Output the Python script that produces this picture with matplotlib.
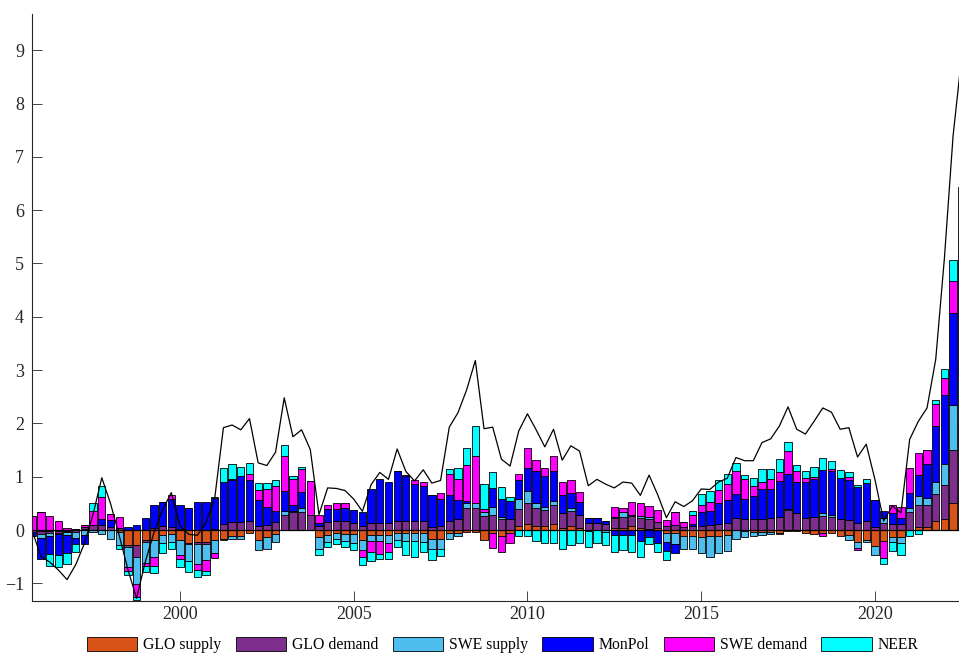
import numpy as np
import matplotlib.pyplot as plt

plt.rcParams['font.family'] = ['Liberation Serif', 'DejaVu Serif']

# quarterly historical decomposition, 1995Q4 - 2022Q3
first_quarter = 1995.75

glo_supply = [0, -0.02, -0.02, -0.02, -0.01, 0.02, 0.02, 0, 0, 0,
              -0.04, -0.29, -0.29, -0.18, -0.19, -0.1, -0.08, -0.18, -0.24, -0.22,
              -0.22, -0.18, -0.17, -0.11, -0.11, -0.05, -0.18, -0.14, -0.08, 0,
              0, 0, 0, -0.14, -0.1, -0.06, -0.08, -0.08, -0.18, -0.1,
              -0.1, -0.1, -0.06, -0.06, -0.06, -0.06, -0.16, -0.16, -0.06, -0.06,
              -0.03, -0.03, -0.19, -0.06, -0.11, -0.06, 0.07, 0.12, 0.07, 0.07,
              0.12, 0.04, 0.07, 0.04, -0.02, 0, 0, 0.03, 0.04, 0.07,
              0.04, 0.02, 0.03, -0.05, -0.05, -0.11, -0.11, -0.14, -0.12, -0.11,
              -0.1, 0, -0.02, -0.03, -0.04, -0.03, -0.05, -0.02, -0.02, -0.05,
              -0.08, -0.06, -0.05, -0.12, -0.1, -0.23, -0.18, -0.3, -0.21, -0.14,
              -0.13, 0, 0.06, 0.06, 0.16, 0.2, 0.5, 0.55]

glo_demand = [-0.03, -0.05, -0.03, -0.03, -0.03, -0.04, 0.03, 0.1, 0.09, 0.05,
              0.04, -0.03, -0.21, -0.05, 0.04, 0.08, 0.06, 0.02, -0.03, -0.04,
              -0.04, 0.02, 0.12, 0.15, 0.15, 0.17, 0.07, 0.1, 0.15, 0.29,
              0.33, 0.34, 0.29, 0.07, 0.15, 0.17, 0.16, 0.13, 0.07, 0.14,
              0.14, 0.13, 0.16, 0.16, 0.16, 0.16, 0.06, 0.08, 0.16, 0.21,
              0.41, 0.41, 0.26, 0.29, 0.2, 0.21, 0.32, 0.39, 0.34, 0.31,
              0.34, 0.28, 0.28, 0.25, 0.14, 0.14, 0.12, 0.19, 0.21, 0.2,
              0.19, 0.19, 0.12, 0.07, 0.09, 0.05, 0.07, 0.07, 0.09, 0.11,
              0.14, 0.23, 0.21, 0.2, 0.21, 0.23, 0.25, 0.37, 0.31, 0.22,
              0.24, 0.26, 0.25, 0.2, 0.19, 0.13, 0.16, 0.06, 0.14, 0.11,
              0.11, 0.34, 0.41, 0.41, 0.52, 0.64, 1.0, 1.45]

swe_supply = [0, -0.08, -0.06, -0.02, -0.06, -0.11, -0.1, -0.04, -0.07, -0.17,
              -0.25, -0.38, -0.52, -0.39, -0.31, -0.15, -0.14, -0.28, -0.31, -0.37,
              -0.31, -0.26, -0.02, -0.05, -0.05, 0, -0.2, -0.21, -0.14, 0.06,
              0.03, 0.08, 0, -0.21, -0.12, -0.11, -0.13, -0.17, -0.2, -0.1,
              -0.1, -0.15, -0.12, -0.14, -0.14, -0.16, -0.2, -0.19, -0.1, -0.06,
              0.09, 0.09, 0.07, 0.14, 0.05, 0, 0.19, 0.22, 0.09, 0.05,
              0.08, 0, 0.06, 0, 0, 0, -0.04, 0.03, 0.08, 0.02,
              0.03, 0.03, 0, -0.18, -0.22, -0.25, -0.25, -0.29, -0.38, -0.32,
              -0.29, -0.17, -0.12, -0.09, -0.06, -0.04, -0.02, 0.03, 0, 0,
              0, 0.05, 0.03, 0, -0.08, -0.11, -0.05, -0.17, 0.08, -0.08,
              -0.12, 0.08, 0.17, 0.13, 0.23, 0.39, 0.85, 0.9]

monpol = [-0.08, -0.39, -0.34, -0.4, -0.34, -0.12, -0.17, 0, 0.12, 0.14,
          0, 0.06, 0.09, 0.22, 0.43, 0.44, 0.52, 0.44, 0.42, 0.52,
          0.52, 0.58, 0.79, 0.78, 0.86, 0.77, 0.49, 0.33, 0.2, 0.39,
          0.1, 0.29, 0, 0.06, 0.24, 0.22, 0.25, 0.25, 0.26, 0.63,
          0.81, 0.78, 0.95, 0.86, 0.71, 0.66, 0.59, 0.5, 0.5, 0.35,
          0.05, 0, 0, 0.36, 0.34, 0.33, 0.35, 0.44, 0.61, 0.58,
          0.56, 0.33, 0.28, 0.23, 0.08, 0.08, 0.04, -0.1, -0.1, -0.1,
          -0.21, -0.13, -0.24, -0.17, -0.16, 0, 0.05, 0.26, 0.26, 0.39,
          0.43, 0.44, 0.38, 0.43, 0.56, 0.54, 0.67, 0.66, 0.59, 0.68,
          0.72, 0.81, 0.83, 0.77, 0.75, 0.68, 0.73, 0.51, 0.14, 0.2,
          0.11, 0.28, 0.39, 0.63, 1.05, 1.3, 1.72, 2.05]

swe_demand = [0.26, 0.33, 0.26, 0.16, 0.04, 0, 0.05, 0.26, 0.4, 0.11,
              0.21, -0.07, -0.23, -0.05, -0.18, 0, 0.07, -0.08, 0, -0.12,
              -0.19, -0.08, 0, 0.03, 0, 0.12, 0.2, 0.34, 0.48, 0.64,
              0.5, 0.44, 0.63, 0.16, 0.07, 0.12, 0.09, 0, -0.12, -0.22,
              -0.25, -0.17, 0, 0.02, 0.07, 0.09, 0, 0.11, 0.39, 0.4,
              0.67, 0.89, 0.06, -0.27, -0.3, -0.18, 0.12, 0.36, 0.2, 0.16,
              0.28, 0.25, 0.25, 0.19, 0, 0, 0, 0.19, 0.09, 0.23,
              0.24, 0.21, 0.22, 0.12, 0.24, 0.1, 0.17, 0.14, 0.18, 0.25,
              0.29, 0.44, 0.36, 0.2, 0.14, 0.19, 0.17, 0.42, 0.21, 0.07,
              0.04, -0.06, 0.03, 0, 0.05, -0.04, 0, 0, -0.31, 0.16,
              0.21, 0.47, 0.42, 0.28, 0.4, 0.33, 0.6, 0.7]

neer = [0, 0, -0.22, -0.23, -0.2, -0.15, 0, 0.14, 0.22, 0,
        -0.06, -0.07, -0.06, -0.12, -0.12, -0.19, -0.14, -0.15, -0.21, -0.14,
        -0.08, 0.02, 0.25, 0.28, 0.17, 0.2, 0.12, 0.11, 0.1, 0.22,
        0.06, 0.04, 0, -0.11, -0.1, -0.09, -0.1, -0.12, -0.16, -0.16,
        -0.1, -0.12, -0.14, -0.27, -0.3, -0.2, -0.2, -0.14, 0.1, 0.21,
        0.31, 0.56, 0.48, 0.29, 0.21, 0.08, -0.12, -0.12, -0.21, -0.25,
        -0.25, -0.35, -0.29, -0.24, -0.3, -0.25, -0.24, -0.31, -0.28, -0.32,
        -0.29, -0.14, -0.17, -0.17, 0, 0, 0.06, 0.2, 0.21, 0.19,
        0.19, 0.14, 0.09, 0.14, 0.23, 0.19, 0.25, 0.18, 0.11, 0.14,
        0.19, 0.24, 0.16, 0.16, 0.09, 0.04, 0.06, 0, -0.11, -0.17,
        -0.22, -0.11, -0.08, 0, 0.07, 0.17, 0.4, 0.78]

# observed series (black line)
observed = [-0.02, -0.5, -0.6, -0.75, -0.93, -0.65, -0.25, 0.3, 0.98, 0.5,
            -0.1, -0.74, -1.28, -0.6, -0.05, 0.38, 0.7, 0.08, -0.08, -0.1,
            0.14, 0.6, 1.92, 1.97, 1.88, 2.09, 1.26, 1.21, 1.46, 2.48,
            1.75, 1.88, 1.51, 0.29, 0.79, 0.78, 0.74, 0.58, 0.35, 0.85,
            1.08, 0.95, 1.52, 1.1, 0.92, 1.13, 0.88, 0.93, 1.93, 2.2,
            2.63, 3.18, 1.9, 1.93, 1.33, 1.2, 1.86, 2.18, 1.88, 1.56,
            1.89, 1.31, 1.58, 1.48, 0.83, 0.95, 0.86, 0.79, 0.9, 0.88,
            0.65, 1.03, 0.66, 0.23, 0.53, 0.44, 0.55, 0.77, 0.76, 0.9,
            0.97, 1.36, 1.3, 1.3, 1.64, 1.71, 1.95, 2.31, 1.89, 1.8,
            2.04, 2.29, 2.21, 1.89, 1.92, 1.37, 1.61, 0.95, 0.17, 0.45,
            0.32, 1.7, 2.04, 2.29, 3.2, 5.1, 7.4, 8.9]

names = ['GLO supply', 'GLO demand', 'SWE supply', 'MonPol', 'SWE demand', 'NEER']
colors = ['#D95319', '#7E2F8E', '#4DBEEE', '#0000FF', '#FF00FF', '#00FFFF']
shocks = [glo_supply, glo_demand, swe_supply, monpol, swe_demand, neer]

t = first_quarter + np.arange(len(observed)) / 4

fig = plt.figure(figsize=(9.59, 6.53), dpi=100)
ax = fig.add_axes([0.0337, 0.0801, 0.9663, 0.898])

# stack positive and negative contributions separately
up = np.zeros(len(t))
down = np.zeros(len(t))
for vals, name, col in zip(shocks, names, colors):
    v = np.asarray(vals, dtype=float)
    base = np.where(v >= 0, up, down)
    ax.bar(t, v, width=0.21, bottom=base, color=col, edgecolor='k',
           linewidth=0.6, label=name)
    up += np.clip(v, 0, None)
    down += np.clip(v, None, 0)

ax.axhline(0, color='k', lw=0.9)
ax.plot(t, observed, color='k', lw=0.9)

ax.set_xlim(1995.75, 2022.42)
ax.set_ylim(-1.326, 9.675)
ax.set_yticks(range(-1, 10))
ax.set_xticks(range(2000, 2021, 5))

for s in ['top', 'right']:
    ax.spines[s].set_visible(False)
for s in ['left', 'bottom']:
    ax.spines[s].set_color('#262626')
    ax.spines[s].set_linewidth(0.8)
ax.tick_params(direction='in', length=7, width=0.6, colors='#262626',
               labelsize=13)
ax.tick_params(axis='y', pad=6)
ax.tick_params(axis='x', pad=4)

fig.legend(loc='lower center', bbox_to_anchor=(0.5245, -0.022), ncol=6,
           frameon=False, fontsize=11.3, handlelength=3.2, handleheight=1.0,
           columnspacing=0.9, handletextpad=0.4)

fig.savefig('out.png', dpi=100)
